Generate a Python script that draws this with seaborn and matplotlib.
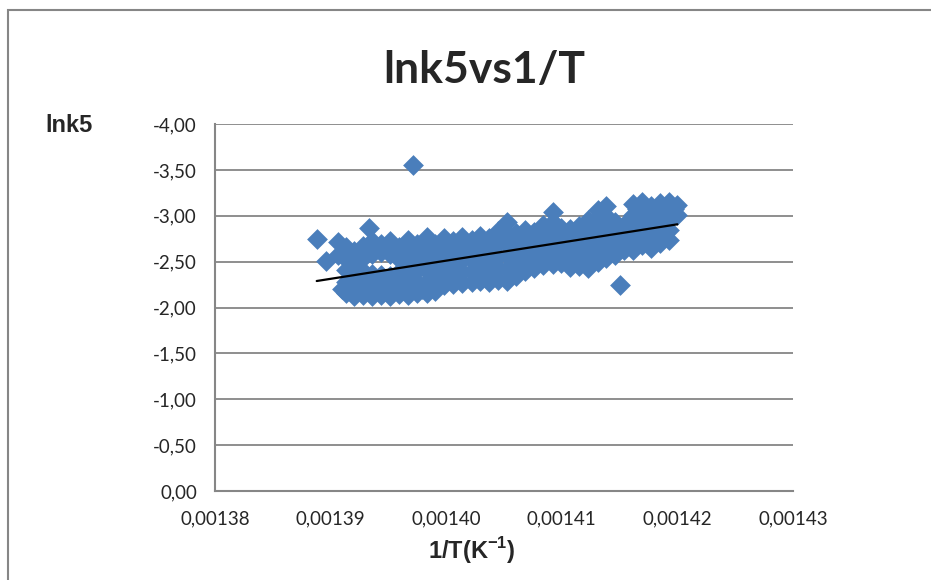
import matplotlib
matplotlib.use("Agg")
import matplotlib.pyplot as plt
import matplotlib.patches as mpatches
from matplotlib.ticker import FuncFormatter
import pandas as pd
import seaborn as sns

# 1/T (K^-1) and ln k5, one measurement per pair
inv_T = [
    0.0013888, 0.0013896, 0.0013906, 0.0013906, 0.0013917, 0.0013933, 0.0013971,
    0.0013913, 0.0013913, 0.0013913, 0.0013913, 0.0013913,
    0.0013920, 0.0013920, 0.0013920, 0.0013920, 0.0013920,
    0.0013928, 0.0013928, 0.0013928, 0.0013928, 0.0013928,
    0.0013936, 0.0013936, 0.0013936, 0.0013936, 0.0013936,
    0.0013944, 0.0013944, 0.0013944, 0.0013944, 0.0013944,
    0.0013951, 0.0013951, 0.0013951, 0.0013951, 0.0013951,
    0.0013959, 0.0013959, 0.0013959, 0.0013959, 0.0013959,
    0.0013967, 0.0013967, 0.0013967, 0.0013967, 0.0013967, 0.0013967,
    0.0013975, 0.0013975, 0.0013975, 0.0013975, 0.0013975,
    0.0013983, 0.0013983, 0.0013983, 0.0013983, 0.0013983, 0.0013983,
    0.0013990, 0.0013990, 0.0013990, 0.0013990, 0.0013990,
    0.0013910, 0.0013917, 0.0013924, 0.0013932, 0.0013940, 0.0013948,
    0.0013955, 0.0013963, 0.0013971, 0.0013979, 0.0013987,
    0.0013998, 0.0013998, 0.0013998, 0.0013998, 0.0013998,
    0.0014006, 0.0014006, 0.0014006, 0.0014006, 0.0014006,
    0.0014014, 0.0014014, 0.0014014, 0.0014014, 0.0014014,
    0.0014022, 0.0014022, 0.0014022, 0.0014022, 0.0014022,
    0.0014029, 0.0014029, 0.0014029, 0.0014029, 0.0014029,
    0.0014037, 0.0014037, 0.0014037, 0.0014037, 0.0014037,
    0.0014045, 0.0014045, 0.0014045, 0.0014045, 0.0014045,
    0.0014053, 0.0014053, 0.0014053, 0.0014053, 0.0014053, 0.0014053,
    0.0014060, 0.0014060, 0.0014060, 0.0014060, 0.0014060,
    0.0014068, 0.0014068, 0.0014068, 0.0014068, 0.0014068,
    0.0014076, 0.0014076, 0.0014076, 0.0014076, 0.0014076,
    0.0014084, 0.0014084, 0.0014084, 0.0014084, 0.0014084,
    0.0014092, 0.0014092, 0.0014092, 0.0014092, 0.0014092, 0.0014092,
    0.0014099, 0.0014099, 0.0014099, 0.0014099,
    0.0014107, 0.0014107, 0.0014107, 0.0014107, 0.0014107,
    0.0014115, 0.0014115, 0.0014115, 0.0014115, 0.0014115,
    0.0014123, 0.0014123, 0.0014123, 0.0014123, 0.0014123,
    0.0014131, 0.0014131, 0.0014131, 0.0014131, 0.0014131, 0.0014131,
    0.0014138, 0.0014138, 0.0014138, 0.0014138, 0.0014138, 0.0014138,
    0.0014146, 0.0014146, 0.0014146, 0.0014146,
    0.0014150,
    0.0014154, 0.0014154, 0.0014154, 0.0014154,
    0.0014162, 0.0014162, 0.0014162, 0.0014162, 0.0014162,
    0.0014169, 0.0014169, 0.0014169, 0.0014169, 0.0014169,
    0.0014177, 0.0014177, 0.0014177, 0.0014177, 0.0014177,
    0.0014185, 0.0014185, 0.0014185, 0.0014185, 0.0014185,
    0.0014193, 0.0014193, 0.0014193, 0.0014193, 0.0014193,
    0.0014200, 0.0014200,
    0.0014165, 0.0014181, 0.0014197,
]

ln_k5 = [
    -2.75, -2.51, -2.71, -2.57, -2.50, -2.87, -3.55,
    -2.16, -2.28, -2.41, -2.53, -2.66,
    -2.13, -2.25, -2.37, -2.49, -2.62,
    -2.14, -2.27, -2.40, -2.54, -2.67,
    -2.13, -2.25, -2.37, -2.58, -2.72,
    -2.14, -2.26, -2.35, -2.60, -2.69,
    -2.13, -2.24, -2.34, -2.58, -2.73,
    -2.15, -2.27, -2.39, -2.53, -2.66,
    -2.14, -2.26, -2.38, -2.50, -2.62, -2.74,
    -2.16, -2.28, -2.41, -2.55, -2.69,
    -2.16, -2.28, -2.40, -2.52, -2.64, -2.77,
    -2.18, -2.30, -2.43, -2.56, -2.69,
    -2.20, -2.18, -2.21, -2.19, -2.20, -2.18,
    -2.21, -2.19, -2.22, -2.20, -2.23,
    -2.25, -2.37, -2.50, -2.63, -2.76,
    -2.26, -2.38, -2.50, -2.62, -2.72,
    -2.27, -2.39, -2.52, -2.65, -2.77,
    -2.28, -2.40, -2.52, -2.63, -2.74,
    -2.29, -2.42, -2.54, -2.66, -2.78,
    -2.28, -2.40, -2.53, -2.66, -2.76,
    -2.30, -2.43, -2.56, -2.70, -2.83,
    -2.29, -2.42, -2.56, -2.69, -2.80, -2.93,
    -2.34, -2.46, -2.58, -2.70, -2.81,
    -2.40, -2.51, -2.62, -2.73, -2.85,
    -2.43, -2.53, -2.63, -2.73, -2.82,
    -2.46, -2.57, -2.68, -2.79, -2.90,
    -2.47, -2.58, -2.70, -2.82, -2.93, -3.04,
    -2.49, -2.60, -2.72, -2.87,
    -2.44, -2.55, -2.66, -2.77, -2.86,
    -2.45, -2.56, -2.67, -2.78, -2.89,
    -2.43, -2.55, -2.68, -2.81, -2.95,
    -2.50, -2.62, -2.74, -2.86, -2.98, -3.06,
    -2.54, -2.66, -2.78, -2.90, -3.00, -3.11,
    -2.57, -2.68, -2.80, -2.93,
    -2.25,
    -2.63, -2.74, -2.84, -2.90,
    -2.63, -2.76, -2.89, -3.01, -3.13,
    -2.68, -2.80, -2.92, -3.03, -3.15,
    -2.65, -2.77, -2.89, -3.01, -3.11,
    -2.70, -2.81, -2.92, -3.03, -3.14,
    -2.74, -2.85, -2.96, -3.05, -3.15,
    -3.01, -3.12,
    -3.07, -3.06, -3.07,
]

x_ticks = [0.00138, 0.00139, 0.00140, 0.00141, 0.00142, 0.00143]
y_ticks = [0.0, -0.5, -1.0, -1.5, -2.0, -2.5, -3.0, -3.5, -4.0]

df = pd.DataFrame({"inv_T": inv_T, "ln_k5": ln_k5})

sns.set_style("white")
plt.rcParams["font.family"] = ["Lato", "DejaVu Sans"]
plt.rcParams["mathtext.fontset"] = "custom"
plt.rcParams["mathtext.bf"] = "Liberation Sans:bold"
plt.rcParams["mathtext.rm"] = "Liberation Sans"

GRID = "#868686"
BLUE = "#4A7EBB"

fig = plt.figure(figsize=(9.31, 5.80), dpi=100)
ax = fig.add_axes([215 / 931, 1 - 491 / 580, (793 - 215) / 931, (491 - 124) / 580])

sns.scatterplot(data=df, x="inv_T", y="ln_k5", marker="D", s=112,
                color=BLUE, linewidth=0, ax=ax, zorder=3, legend=False)
sns.regplot(data=df, x="inv_T", y="ln_k5", scatter=False, ci=None,
            truncate=True, color="black", line_kws={"linewidth": 1.6, "zorder": 4},
            ax=ax)

ax.set_xlim(x_ticks[0], x_ticks[-1])
ax.set_ylim(0, -4)
ax.set_xticks(x_ticks)
ax.set_yticks(y_ticks)
ax.xaxis.set_major_formatter(FuncFormatter(lambda v, p: f"{v:.5f}".replace(".", ",")))
ax.yaxis.set_major_formatter(FuncFormatter(lambda v, p: f"{v:.2f}".replace(".", ",")))

ax.grid(axis="y", color=GRID, linewidth=1.3, zorder=0)
ax.set_axisbelow(True)
for side in ("top", "right"):
    ax.spines[side].set_visible(False)
for side in ("left", "bottom"):
    ax.spines[side].set_color(GRID)
    ax.spines[side].set_linewidth(1.5)

ax.tick_params(axis="x", direction="in", length=6, width=1.3, color=GRID,
               labelsize=13.5, pad=14)
ax.tick_params(axis="y", direction="out", length=5, width=1.3, color=GRID,
               labelsize=13.5, pad=8)
ax.set_xlabel("")
ax.set_ylabel("")

fig.text(0.52, 0.879, "lnk5vs1/T", ha="center", va="center",
         fontsize=32, fontweight="bold", family=["Lato", "DejaVu Sans"])
fig.text(45 / 931, 1 - 126 / 580, "lnk5", ha="left", va="center",
         fontsize=17, fontweight="bold", family=["Liberation Sans", "DejaVu Sans"])
fig.text(472 / 931, 1 - 551 / 580, r"1/T(K$^{\mathbf{-1}}$)", ha="center", va="center",
         fontsize=17, fontweight="bold", family=["Liberation Sans", "DejaVu Sans"])

fig.patches.append(mpatches.Rectangle((8 / 931, -0.1), 1.2, 1.1 - 10 / 580,
                                      transform=fig.transFigure, fill=False,
                                      edgecolor=GRID, linewidth=1.5))

fig.savefig("out.png", dpi=100)
